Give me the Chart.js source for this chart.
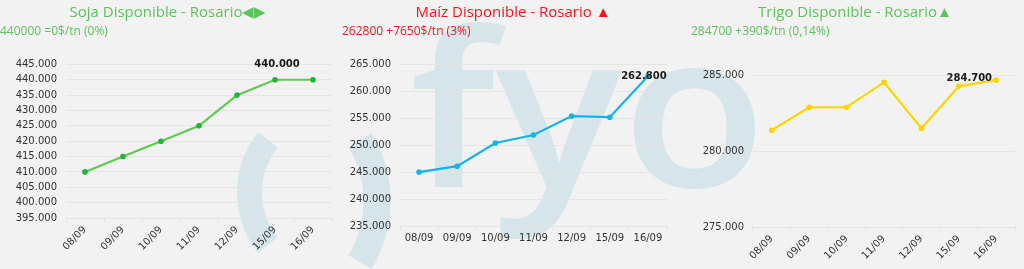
<!DOCTYPE html>
<html>
<head>
<meta charset="utf-8">
<script src="https://cdn.jsdelivr.net/npm/chart.js@4"></script>
<style>
  html, body { margin: 0; padding: 0; background: #f2f2f2; }
  body { width: 1024px; height: 269px; position: relative; overflow: hidden; }
  .wm { position: absolute; color: #d5e5ea; font-family: "Open Sans"; font-weight: 600; line-height: 1; transform-origin: left top; }
  .box { position: absolute; top: 0; height: 269px; }
  svg.bg { position: absolute; left: 0; top: 0; }
</style>
</head>
<body>
<!-- fyo watermark behind the charts -->
<svg class="bg" width="1024" height="269">
  <path d="M 268 140 A 84 84 0 0 0 268 245" fill="none" stroke="#d5e5ea" stroke-width="25"/>
  <path d="M 360 140 A 118 118 0 0 1 360 262" fill="none" stroke="#d5e5ea" stroke-width="27"/>
</svg>
<div class="wm" style="left:410px; top:-4px; font-size:215px; transform:scaleX(1.1);">fyo</div>

<div class="box" style="left:0; width:336px;"><canvas id="sojaChart"></canvas></div>
<div class="box" style="left:342px; width:342px;"><canvas id="maizChart"></canvas></div>
<div class="box" style="left:691px; width:328px;"><canvas id="trigoChart"></canvas></div>

<script>
const fechas = ['08/09', '09/09', '10/09', '11/09', '12/09', '15/09', '16/09'];
const soja = [410000, 415000, 420000, 425000, 435000, 440000, 440000];
const maiz = [245000, 246100, 250400, 251900, 255400, 255200, 262800];
const trigo = [281380, 282900, 282900, 284540, 281510, 284280, 284700];

const green = '#5cc45c';
const red = '#f5141e';

function fmt(v){
  return v.toLocaleString('de-DE');
}

// bold value label next to the last point
const lastLabel = {
  id: 'lastLabel',
  afterDatasetsDraw(chart, args, opts) {
    const meta = chart.getDatasetMeta(0);
    const pt = meta.data[meta.data.length - 1];
    const ds = chart.data.datasets[0];
    const c = chart.ctx;
    c.save();
    c.font = 'bold 10px "DejaVu Sans"';
    c.fillStyle = '#1a1a1a';
    c.textAlign = 'center';
    c.textBaseline = 'middle';
    c.fillText(fmt(ds.data[ds.data.length - 1]), pt.x + opts.dx, pt.y + opts.dy);
    c.restore();
  }
};

function makeChart(id, cfg){
  const ctx = document.getElementById(id).getContext('2d');
  return new Chart(ctx, {
    type: 'line',
    data: {
      labels: fechas,
      datasets: [{
        data: cfg.values,
        borderColor: cfg.line,
        backgroundColor: cfg.point,
        pointBackgroundColor: cfg.point,
        pointBorderWidth: 0,
        borderWidth: 2.2,
        pointRadius: 2.8,
        tension: 0
      }]
    },
    options: {
      responsive: true,
      maintainAspectRatio: false,
      animation: false,
      layout: { padding: 0 },
      plugins: {
        legend: { display: false },
        tooltip: { enabled: false },
        title: {
          display: true,
          text: cfg.title,
          color: cfg.color,
          font: { family: 'Open Sans', size: 15, weight: 'normal' },
          padding: { top: 4, bottom: 2 }
        },
        subtitle: {
          display: true,
          text: cfg.subtitle,
          color: cfg.color,
          align: 'start',
          font: { family: 'Open Sans', size: 12, weight: 'normal' },
          padding: { top: 0, bottom: cfg.gap }
        },
        lastLabel: cfg.label
      },
      scales: {
        x: {
          offset: true,
          grid: { offset: true, drawOnChartArea: false, drawTicks: true, tickLength: 4, color: '#e2e2e2' },
          border: { display: false },
          ticks: {
            color: '#333',
            font: { family: 'DejaVu Sans', size: 10 },
            minRotation: cfg.rot,
            maxRotation: cfg.rot,
            padding: 2
          },
          afterFit: (s) => { s.height = cfg.xHeight; }
        },
        y: {
          min: cfg.min,
          max: cfg.max,
          grid: { color: '#e4e4e4', drawTicks: false },
          border: { display: false },
          ticks: {
            stepSize: 5000,
            color: '#333',
            font: { family: 'DejaVu Sans', size: 10 },
            padding: 9,
            callback: (v) => fmt(v)
          },
          afterFit: (s) => { s.width = cfg.yWidth; }
        },
        // empty right axis, only keeps space after the plot
        yr: {
          position: 'right',
          grid: { display: false },
          border: { display: false },
          ticks: { display: false },
          afterFit: (s) => { s.width = cfg.rightGap; }
        }
      }
    },
    plugins: [lastLabel]
  });
}

makeChart('sojaChart', {
  values: soja, line: '#5ccc4c', point: '#22b33a', color: green,
  title: 'Soja Disponible - Rosario\u25C0\u25B6',
  subtitle: '440000 =0$/tn (0%)',
  min: 395000, max: 445000, rot: 45, gap: 26,
  yWidth: 66, xHeight: 51, rightGap: 3,
  label: { dx: -36, dy: -15 }
});

makeChart('maizChart', {
  values: maiz, line: '#13b4e6', point: '#13b4e6', color: red,
  title: 'Maíz Disponible - Rosario \u25B2',
  subtitle: '262800 +7650$/tn (3%)',
  min: 235000, max: 265000, rot: 0, gap: 26,
  yWidth: 58, xHeight: 43, rightGap: 17,
  label: { dx: -4, dy: 0 }
});

makeChart('trigoChart', {
  values: trigo, line: '#ffd500', point: '#ffd500', color: green,
  title: 'Trigo Disponible - Rosario\u25B2',
  subtitle: '284700 +390$/tn (0,14%)',
  min: 275000, max: 285000, rot: 45, gap: 37,
  yWidth: 62, xHeight: 42, rightGap: 1,
  label: { dx: -27, dy: -2 }
});
</script>
</body>
</html>
